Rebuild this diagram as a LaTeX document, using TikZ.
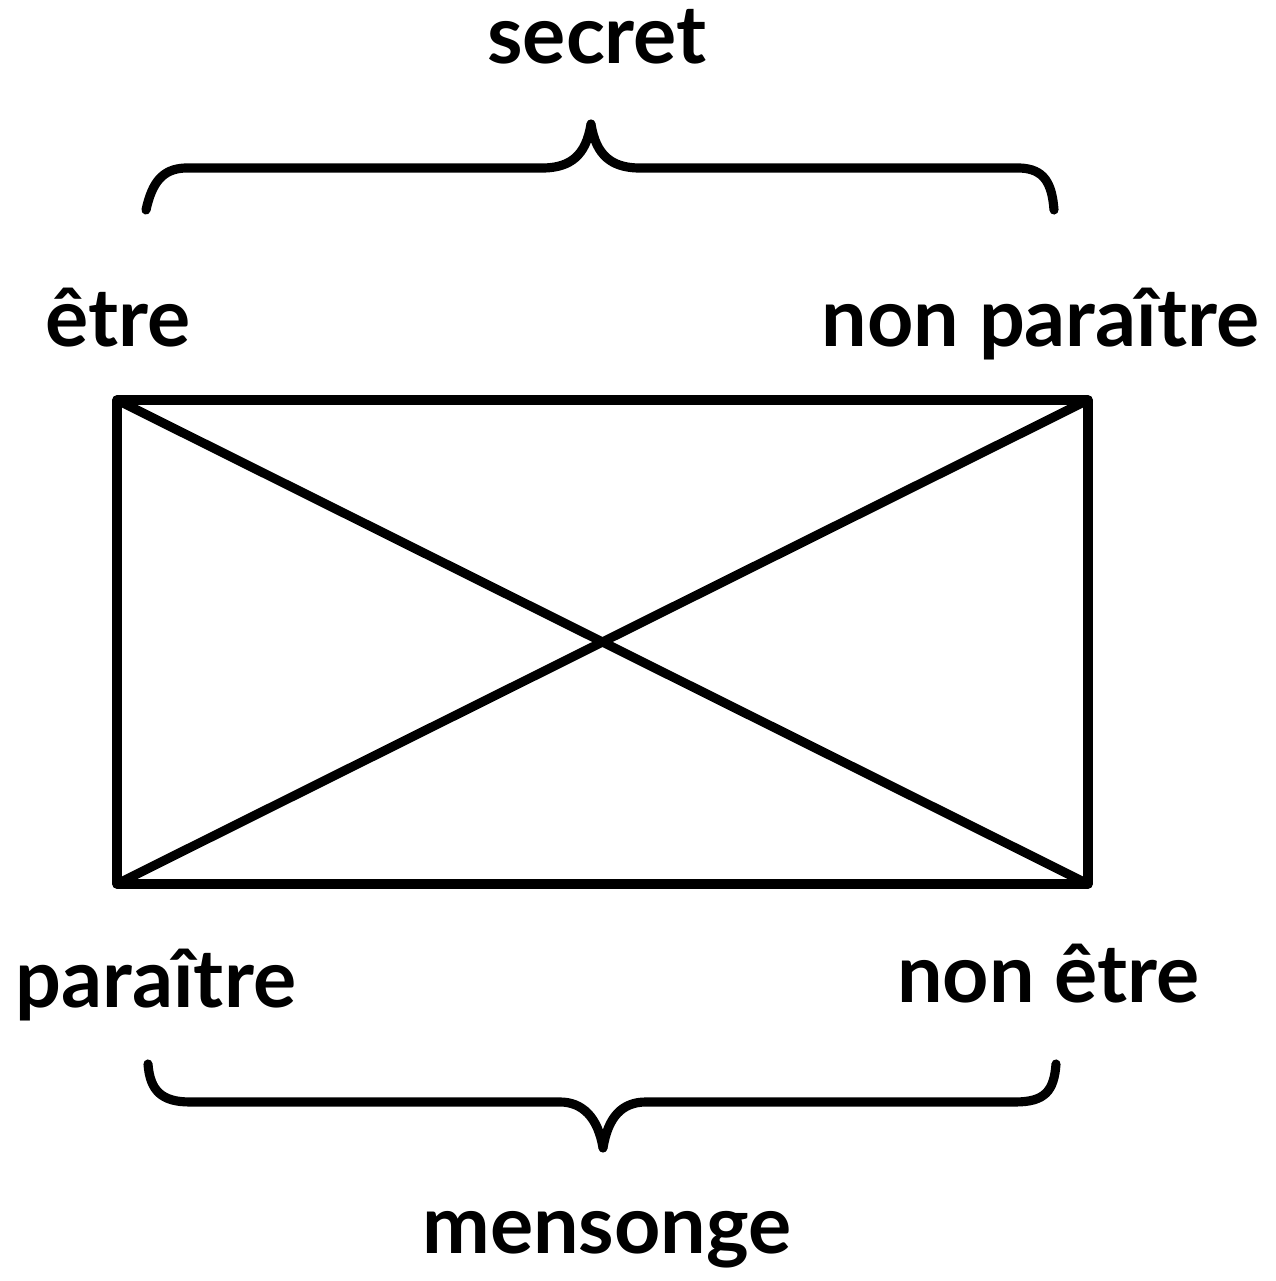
\documentclass[tikz,border=0pt]{standalone}
\usepackage{fontspec}
\setmainfont{Lato}[UprightFont=* Bold]

\begin{document}
\begin{tikzpicture}
  % styles
  \tikzset{
    term/.style={inner sep=0pt, font=\fontsize{23}{28}\selectfont},
    side/.style={draw=black, line width=2.6pt, line join=round},
    cbrace/.style={draw=black, line width=2.6pt, line cap=round, line join=round}
  }
  \useasboundingbox (0,0) rectangle (12.76,12.81);

  % corners of the square
  \coordinate (A) at (1.17,8.81);   % top-left
  \coordinate (B) at (10.88,8.81);  % top-right
  \coordinate (C) at (1.17,3.97);   % bottom-left
  \coordinate (D) at (10.88,3.97);  % bottom-right

  % sides and diagonals
  \draw[side] (A)--(B)--(D)--(C)--cycle;
  \draw[side] (A)--(D);
  \draw[side] (B)--(C);

  % terms
  \node[term, anchor=base west] (etre) at (0.45,9.34) {être};
  \node[term, anchor=base east] (nonparaitre) at (12.60,9.34) {non paraître};
  \node[term, anchor=base west] (paraitre) at (0.15,2.73) {paraître};
  \node[term, anchor=base east] (nonetre) at (12.00,2.79) {non être};

  % top brace (tip up)
  \coordinate (t1) at (1.46,10.71);  % left end
  \coordinate (t2) at (5.91,11.57);  % tip
  \coordinate (t3) at (10.54,10.71); % right end
  \draw[cbrace] (t1) .. controls (1.52,10.98) and (1.62,11.12) .. (1.85,11.13)
    -- (5.45,11.13) .. controls (5.70,11.14) and (5.86,11.25) .. (t2)
    .. controls (5.96,11.25) and (6.12,11.14) .. (6.37,11.13)
    -- (10.20,11.13) .. controls (10.44,11.12) and (10.52,10.98) .. (t3);

  % bottom brace (tip down)
  \coordinate (b1) at (1.48,2.17);   % left end
  \coordinate (b2) at (6.03,1.33);   % tip
  \coordinate (b3) at (10.56,2.17);  % right end
  \draw[cbrace] (b1) .. controls (1.50,1.90) and (1.62,1.79) .. (1.90,1.79)
    -- (5.60,1.79) .. controls (5.82,1.79) and (5.98,1.64) .. (b2)
    .. controls (6.08,1.64) and (6.22,1.79) .. (6.46,1.79)
    -- (10.15,1.79) .. controls (10.45,1.79) and (10.54,1.90) .. (b3);

  % metaterms
  \node[term, anchor=base] (secret) at (5.97,12.17) {secret};
  \node[term, anchor=base] (mensonge) at (6.07,0.27) {mensonge};
\end{tikzpicture}
\end{document}
